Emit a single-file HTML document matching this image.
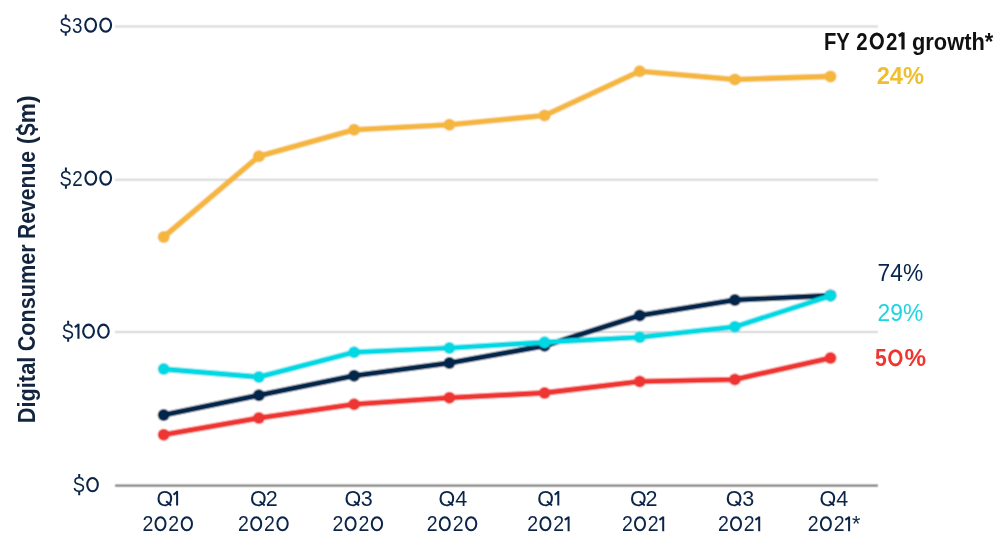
<!DOCTYPE html>
<html><head><meta charset="utf-8">
<style>
html,body{margin:0;padding:0;background:#fff;width:999px;height:554px;overflow:hidden}
svg{display:block;will-change:transform}
text{font-family:"Liberation Sans",sans-serif}
</style></head>
<body>
<svg width="999" height="554" viewBox="0 0 999 554">
<defs><clipPath id="qc"><rect x="0" y="480" width="999" height="26.2"/></clipPath><filter id="bl" x="0" y="0" width="999" height="554" filterUnits="userSpaceOnUse"><feConvolveMatrix order="3" kernelMatrix="1 2 1 2 4 2 1 2 1" edgeMode="duplicate"/></filter></defs>
<g filter="url(#bl)">
<rect width="999" height="554" fill="#fff"/>
<g stroke="#d6d6d6" stroke-width="2">
<line x1="115" y1="26.4" x2="878" y2="26.4"/>
<line x1="115" y1="179.8" x2="878" y2="179.8"/>
<line x1="115" y1="332" x2="878" y2="332"/>
</g>
<line x1="115" y1="485.7" x2="878" y2="485.7" stroke="#777" stroke-width="2.2"/>
<g fill="#f5b63c"><polyline fill="none" stroke="#f5b63c" stroke-width="5.6" stroke-linejoin="round" stroke-linecap="round" points="163.7,237 258.9,156.2 354.1,129.7 449.4,124.7 544.6,115.5 639.7,71.3 734.9,79.5 830.5,76.4"/>
<circle cx="163.7" cy="237" r="6"/><circle cx="258.9" cy="156.2" r="6"/><circle cx="354.1" cy="129.7" r="6"/><circle cx="449.4" cy="124.7" r="6"/><circle cx="544.6" cy="115.5" r="6"/><circle cx="639.7" cy="71.3" r="6"/><circle cx="734.9" cy="79.5" r="6"/><circle cx="830.5" cy="76.4" r="6"/></g>
<g fill="#ee3631"><polyline fill="none" stroke="#ee3631" stroke-width="5.6" stroke-linejoin="round" stroke-linecap="round" points="163.7,434.8 258.9,418 354.1,404.2 449.4,397.8 544.6,392.9 639.7,381.5 734.9,379.5 830.5,358"/>
<circle cx="163.7" cy="434.8" r="6"/><circle cx="258.9" cy="418" r="6"/><circle cx="354.1" cy="404.2" r="6"/><circle cx="449.4" cy="397.8" r="6"/><circle cx="544.6" cy="392.9" r="6"/><circle cx="639.7" cy="381.5" r="6"/><circle cx="734.9" cy="379.5" r="6"/><circle cx="830.5" cy="358" r="6"/></g>
<g fill="#05254c"><polyline fill="none" stroke="#05254c" stroke-width="5.6" stroke-linejoin="round" stroke-linecap="round" points="163.7,415.1 258.9,395.2 354.1,375.8 449.4,362.9 544.6,345.8 639.7,315.5 734.9,299.9 830.5,295.5"/>
<circle cx="163.7" cy="415.1" r="6"/><circle cx="258.9" cy="395.2" r="6"/><circle cx="354.1" cy="375.8" r="6"/><circle cx="449.4" cy="362.9" r="6"/><circle cx="544.6" cy="345.8" r="6"/><circle cx="639.7" cy="315.5" r="6"/><circle cx="734.9" cy="299.9" r="6"/><circle cx="830.5" cy="295.5" r="6"/></g>
<g fill="#00d8e4"><polyline fill="none" stroke="#00d8e4" stroke-width="5.6" stroke-linejoin="round" stroke-linecap="round" points="163.7,369.1 258.9,377 354.1,352.2 449.4,348 544.6,342.2 639.7,337.3 734.9,326.8 830.5,295.8"/>
<circle cx="163.7" cy="369.1" r="6"/><circle cx="258.9" cy="377" r="6"/><circle cx="354.1" cy="352.2" r="6"/><circle cx="449.4" cy="348" r="6"/><circle cx="544.6" cy="342.2" r="6"/><circle cx="639.7" cy="337.3" r="6"/><circle cx="734.9" cy="326.8" r="6"/><circle cx="830.5" cy="295.8" r="6"/></g>
</g>
<g fill="#0b2548" font-size="22.5" text-anchor="middle">
<g style="color:#0b2548"><text x="65.45" y="32.6" text-anchor="middle" font-size="22" textLength="12.3" lengthAdjust="spacingAndGlyphs">S</text><path d="M65.75 14.6V18.4M65.75 31.7V35.7" stroke="currentColor" stroke-width="2" fill="none"/><text x="77.15" y="32.6" text-anchor="middle" font-size="22.5" textLength="10.44" lengthAdjust="spacingAndGlyphs">3</text><ellipse cx="90.65" cy="25.05" rx="5.4" ry="6.6" fill="none" stroke="currentColor" stroke-width="2.1"/><ellipse cx="105.7" cy="25.05" rx="5.4" ry="6.6" fill="none" stroke="currentColor" stroke-width="2.1"/><text x="65.6" y="185.6" text-anchor="middle" font-size="22" textLength="12.3" lengthAdjust="spacingAndGlyphs">S</text><path d="M65.9 167.6V171.4M65.9 184.7V188.7" stroke="currentColor" stroke-width="2" fill="none"/><text x="77.45" y="185.6" text-anchor="middle" font-size="22.5" textLength="10.44" lengthAdjust="spacingAndGlyphs">2</text><ellipse cx="90.8" cy="178.05" rx="5.4" ry="6.6" fill="none" stroke="currentColor" stroke-width="2.1"/><ellipse cx="105.7" cy="178.05" rx="5.4" ry="6.6" fill="none" stroke="currentColor" stroke-width="2.1"/><text x="67.85" y="338.7" text-anchor="middle" font-size="22" textLength="12.3" lengthAdjust="spacingAndGlyphs">S</text><path d="M68.15 320.8V324.6M68.15 337.8V341.8" stroke="currentColor" stroke-width="2" fill="none"/><path d="M78.45 338.7V323.8M78.75 324.3L74.9 327.2" fill="none" stroke="currentColor" stroke-width="2.1"/><ellipse cx="88.55" cy="331.2" rx="5.4" ry="6.55" fill="none" stroke="currentColor" stroke-width="2.1"/><ellipse cx="103.45" cy="331.2" rx="5.3" ry="6.55" fill="none" stroke="currentColor" stroke-width="2.1"/><text x="78.9" y="492.2" text-anchor="middle" font-size="22" textLength="12.3" lengthAdjust="spacingAndGlyphs">S</text><path d="M79.2 474.1V477.9M79.2 491.3V495.3" stroke="currentColor" stroke-width="2" fill="none"/><ellipse cx="92.55" cy="484.6" rx="5.3" ry="6.65" fill="none" stroke="currentColor" stroke-width="2.1"/></g>
</g>
<g transform="rotate(-90)" fill="#13253e" font-size="23" font-weight="bold">
<text x="-423.3" y="35.2" textLength="66.6" lengthAdjust="spacingAndGlyphs">Digital</text>
<text x="-351.3" y="35.2" textLength="107" lengthAdjust="spacingAndGlyphs">Consumer</text>
<text x="-238.9" y="35.2" textLength="88" lengthAdjust="spacingAndGlyphs">Revenue</text><text x="-140.3" y="35.2" text-anchor="middle">(</text><text x="-129.6" y="35.2" text-anchor="middle" textLength="13.2" lengthAdjust="spacingAndGlyphs">S</text><text x="-109.4" y="35.2" text-anchor="middle" textLength="27.6" lengthAdjust="spacingAndGlyphs">m)</text><path d="M-129.4 15.8V20M-129.4 34V38" stroke="#13253e" stroke-width="2.4" fill="none"/>
</g>
<g fill="#0b2548" font-size="22" text-anchor="middle">
<g font-size="21.5"><g clip-path="url(#qc)"><text x="156.5" y="505.6" text-anchor="start">Q</text><text x="250" y="505.6" text-anchor="start">Q</text><text x="344.4" y="505.6" text-anchor="start">Q</text><text x="438.4" y="505.6" text-anchor="start">Q</text><text x="537.3" y="505.6" text-anchor="start">Q</text><text x="630" y="505.6" text-anchor="start">Q</text><text x="725.8" y="505.6" text-anchor="start">Q</text><text x="819.5" y="505.6" text-anchor="start">Q</text></g><text x="277.8" y="505.6" text-anchor="end">2</text><text x="372.6" y="505.6" text-anchor="end">3</text><text x="467.1" y="505.6" text-anchor="end">4</text><text x="657.4" y="505.6" text-anchor="end">2</text><text x="754.2" y="505.6" text-anchor="end">3</text><text x="848.3" y="505.6" text-anchor="end">4</text></g><g stroke="#0b2548" stroke-width="1.9" fill="none"><line x1="166.15" y1="501.2" x2="171.15" y2="505.5"/><line x1="259.65" y1="501.2" x2="264.65" y2="505.5"/><line x1="354.05" y1="501.2" x2="359.05" y2="505.5"/><line x1="448.05" y1="501.2" x2="453.05" y2="505.5"/><line x1="546.95" y1="501.2" x2="551.95" y2="505.5"/><line x1="639.65" y1="501.2" x2="644.65" y2="505.5"/><line x1="735.45" y1="501.2" x2="740.45" y2="505.5"/><line x1="829.15" y1="501.2" x2="834.15" y2="505.5"/></g><g stroke="#0b2548" stroke-width="2" fill="none"><path d="M177.1 505.6V491M177.5 491.5L173.5 494.7"/><path d="M558.3 505.6V491M558.7 491.5L554.7 494.7"/></g>
<g style="color:#0b2548"><text x="147.85" y="531.2" text-anchor="middle" font-size="21.5" textLength="10.86" lengthAdjust="spacingAndGlyphs">2</text><ellipse cx="160.5" cy="523.75" rx="5" ry="6.55" fill="none" stroke="currentColor" stroke-width="2.0"/><text x="173.8" y="531.2" text-anchor="middle" font-size="21.5" textLength="10.86" lengthAdjust="spacingAndGlyphs">2</text><ellipse cx="186.85" cy="523.75" rx="5.15" ry="6.55" fill="none" stroke="currentColor" stroke-width="2.0"/><text x="243.55" y="531.2" text-anchor="middle" font-size="21.5" textLength="10.86" lengthAdjust="spacingAndGlyphs">2</text><ellipse cx="256.2" cy="523.75" rx="5" ry="6.55" fill="none" stroke="currentColor" stroke-width="2.0"/><text x="269.5" y="531.2" text-anchor="middle" font-size="21.5" textLength="10.86" lengthAdjust="spacingAndGlyphs">2</text><ellipse cx="282.55" cy="523.75" rx="5.15" ry="6.55" fill="none" stroke="currentColor" stroke-width="2.0"/><text x="337.95" y="531.2" text-anchor="middle" font-size="21.5" textLength="10.86" lengthAdjust="spacingAndGlyphs">2</text><ellipse cx="350.6" cy="523.75" rx="5" ry="6.55" fill="none" stroke="currentColor" stroke-width="2.0"/><text x="363.9" y="531.2" text-anchor="middle" font-size="21.5" textLength="10.86" lengthAdjust="spacingAndGlyphs">2</text><ellipse cx="376.95" cy="523.75" rx="5.15" ry="6.55" fill="none" stroke="currentColor" stroke-width="2.0"/><text x="432.15" y="531.2" text-anchor="middle" font-size="21.5" textLength="10.86" lengthAdjust="spacingAndGlyphs">2</text><ellipse cx="444.8" cy="523.75" rx="5" ry="6.55" fill="none" stroke="currentColor" stroke-width="2.0"/><text x="458.1" y="531.2" text-anchor="middle" font-size="21.5" textLength="10.86" lengthAdjust="spacingAndGlyphs">2</text><ellipse cx="471.15" cy="523.75" rx="5.15" ry="6.55" fill="none" stroke="currentColor" stroke-width="2.0"/><text x="532.75" y="531.2" text-anchor="middle" font-size="21.5" textLength="10.86" lengthAdjust="spacingAndGlyphs">2</text><ellipse cx="545.4" cy="523.75" rx="5" ry="6.55" fill="none" stroke="currentColor" stroke-width="2.0"/><text x="558.7" y="531.2" text-anchor="middle" font-size="21.5" textLength="10.86" lengthAdjust="spacingAndGlyphs">2</text><path d="M568.6 531.2V516.5M568.9 517L564.8 519.9" fill="none" stroke="currentColor" stroke-width="2.0"/><text x="627.35" y="531.2" text-anchor="middle" font-size="21.5" textLength="10.86" lengthAdjust="spacingAndGlyphs">2</text><ellipse cx="640" cy="523.75" rx="5" ry="6.55" fill="none" stroke="currentColor" stroke-width="2.0"/><text x="653.3" y="531.2" text-anchor="middle" font-size="21.5" textLength="10.86" lengthAdjust="spacingAndGlyphs">2</text><path d="M663.2 531.2V516.5M663.5 517L659.4 519.9" fill="none" stroke="currentColor" stroke-width="2.0"/><text x="723.35" y="531.2" text-anchor="middle" font-size="21.5" textLength="10.86" lengthAdjust="spacingAndGlyphs">2</text><ellipse cx="736" cy="523.75" rx="5" ry="6.55" fill="none" stroke="currentColor" stroke-width="2.0"/><text x="749.3" y="531.2" text-anchor="middle" font-size="21.5" textLength="10.86" lengthAdjust="spacingAndGlyphs">2</text><path d="M759.2 531.2V516.5M759.5 517L755.4 519.9" fill="none" stroke="currentColor" stroke-width="2.0"/><text x="813.25" y="531.2" text-anchor="middle" font-size="21.5" textLength="10.86" lengthAdjust="spacingAndGlyphs">2</text><ellipse cx="825.9" cy="523.75" rx="5" ry="6.55" fill="none" stroke="currentColor" stroke-width="2.0"/><text x="839.2" y="531.2" text-anchor="middle" font-size="21.5" textLength="10.86" lengthAdjust="spacingAndGlyphs">2</text><path d="M849.1 531.2V516.5M849.4 517L845.3 519.9" fill="none" stroke="currentColor" stroke-width="2.0"/><text x="856.1" y="531.2" text-anchor="middle" font-size="21.5">*</text></g>
</g>
<g fill="#111" font-size="23" font-weight="bold"><text x="824" y="49.5" textLength="25.8" lengthAdjust="spacingAndGlyphs">FY</text><text x="912" y="49.5" textLength="81.3" lengthAdjust="spacingAndGlyphs">growth*</text><g style="color:#111"><text x="861.85" y="49.5" text-anchor="middle" font-size="23" textLength="11.38" lengthAdjust="spacingAndGlyphs">2</text><ellipse cx="876.8" cy="41" rx="5.6" ry="7.1" fill="none" stroke="currentColor" stroke-width="3.0"/><text x="891.75" y="49.5" text-anchor="middle" font-size="23" textLength="11.38" lengthAdjust="spacingAndGlyphs">2</text><path d="M903 49.5V32.6M903.3 33.1L898.8 36" fill="none" stroke="currentColor" stroke-width="3.2"/></g></g>
<text x="876.7" y="83.7" fill="#f0be2e" font-size="23" font-weight="bold" textLength="47.3" lengthAdjust="spacingAndGlyphs">24%</text>
<text x="877.6" y="280.7" fill="#05254c" font-size="23" textLength="45.6" lengthAdjust="spacingAndGlyphs">74%</text>
<text x="877.6" y="321.2" fill="#1ed4e0" font-size="23" textLength="45.7" lengthAdjust="spacingAndGlyphs">29%</text>
<g style="color:#ee3631" fill="#ee3631" font-size="23" font-weight="bold"><text x="880.8" y="366.3" text-anchor="middle" font-size="23" textLength="11.73" lengthAdjust="spacingAndGlyphs">5</text><ellipse cx="895.35" cy="357.8" rx="5.8" ry="7.15" fill="none" stroke="currentColor" stroke-width="2.9"/><text x="915.2" y="366.3" text-anchor="middle" font-size="23" textLength="21.56" lengthAdjust="spacingAndGlyphs">%</text></g>
</svg>
</body></html>
